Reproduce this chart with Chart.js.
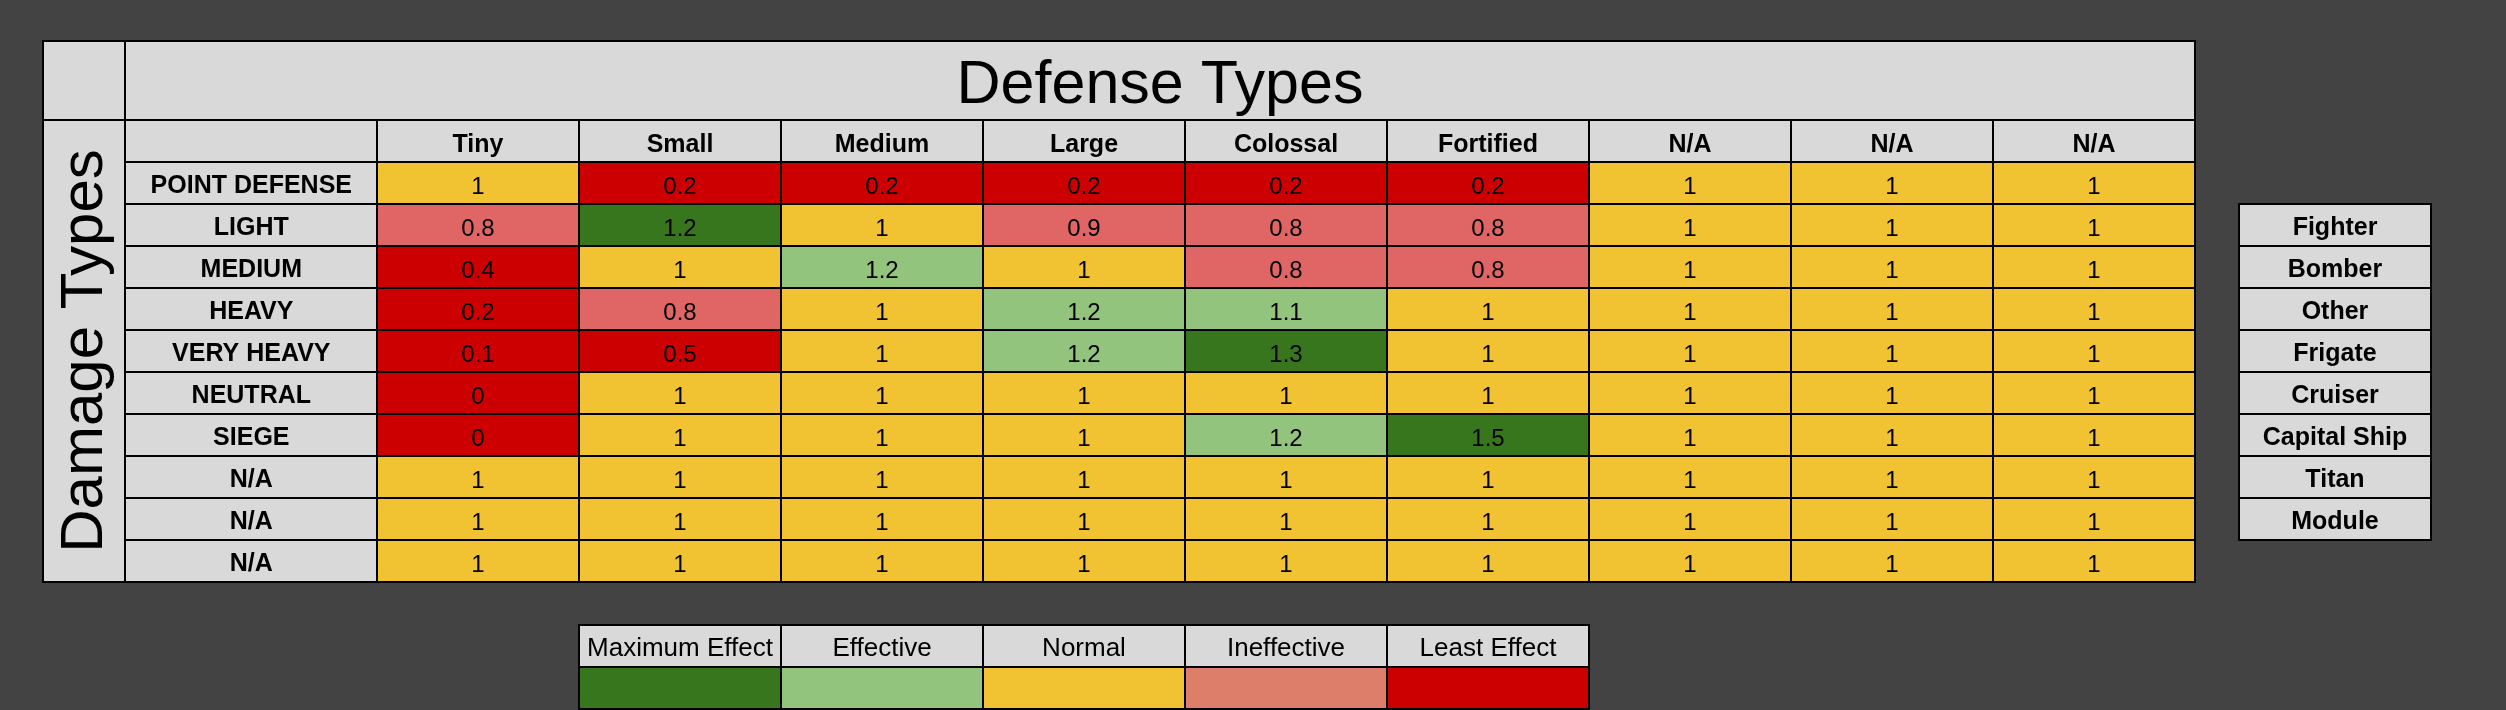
<!DOCTYPE html>
<html>
<head>
<meta charset="utf-8">
<title>Defense Types</title>
<script src="https://cdn.jsdelivr.net/npm/chart.js@4.4.1/dist/chart.umd.min.js"></script>
<style>
  html, body { margin: 0; padding: 0; background: #434343; overflow: hidden; }
  canvas { display: block; }
</style>
</head>
<body>
<canvas id="chart" width="2506" height="710"></canvas>
<script>
// ---------------- data ----------------
const chartTitle = 'Defense Types';
const sideTitle = 'Damage Types';
const defenseTypes = ['Tiny', 'Small', 'Medium', 'Large', 'Colossal', 'Fortified', 'N/A', 'N/A', 'N/A'];
const damageTypes = ['POINT DEFENSE', 'LIGHT', 'MEDIUM', 'HEAVY', 'VERY HEAVY', 'NEUTRAL', 'SIEGE', 'N/A', 'N/A', 'N/A'];
const multipliers = [
  [1,   0.2, 0.2, 0.2, 0.2, 0.2, 1, 1, 1],
  [0.8, 1.2, 1,   0.9, 0.8, 0.8, 1, 1, 1],
  [0.4, 1,   1.2, 1,   0.8, 0.8, 1, 1, 1],
  [0.2, 0.8, 1,   1.2, 1.1, 1,   1, 1, 1],
  [0.1, 0.5, 1,   1.2, 1.3, 1,   1, 1, 1],
  [0,   1,   1,   1,   1,   1,   1, 1, 1],
  [0,   1,   1,   1,   1.2, 1.5, 1, 1, 1],
  [1,   1,   1,   1,   1,   1,   1, 1, 1],
  [1,   1,   1,   1,   1,   1,   1, 1, 1],
  [1,   1,   1,   1,   1,   1,   1, 1, 1]
];
// effect level of each cell: 0 Maximum Effect, 1 Effective, 2 Normal, 3 Ineffective, 4 Least Effect
const effectLevels = [
  [2, 4, 4, 4, 4, 4, 2, 2, 2],
  [3, 0, 2, 3, 3, 3, 2, 2, 2],
  [4, 2, 1, 2, 3, 3, 2, 2, 2],
  [4, 3, 2, 1, 1, 2, 2, 2, 2],
  [4, 4, 2, 1, 0, 2, 2, 2, 2],
  [4, 2, 2, 2, 2, 2, 2, 2, 2],
  [4, 2, 2, 2, 1, 0, 2, 2, 2],
  [2, 2, 2, 2, 2, 2, 2, 2, 2],
  [2, 2, 2, 2, 2, 2, 2, 2, 2],
  [2, 2, 2, 2, 2, 2, 2, 2, 2]
];
const legendLabels = ['Maximum Effect', 'Effective', 'Normal', 'Ineffective', 'Least Effect'];
const legendColors = ['#38761d', '#93c47d', '#f1c232', '#dd7e6b', '#cc0000'];
const cellColors = ['#38761d', '#93c47d', '#f1c232', '#e06666', '#cc0000'];
const shipClasses = ['Fighter', 'Bomber', 'Other', 'Frigate', 'Cruiser', 'Capital Ship', 'Titan', 'Module'];

// ---------------- layout / style ----------------
const BG = '#434343';
const GRAY = '#d9d9d9';
const LINE = '#000000';
const FONT = '"Liberation Sans", Arial, sans-serif';
const DMG_COL_W = 82;      // "Damage Types" column
const ROW_LABEL_W = 252;   // row label column
const TITLE_H = 79;        // title row
const HEADER_H = 42;       // column header row
const SIDE_LEFT = 2239, SIDE_RIGHT = 2431;
const LEGEND_TOP = 625, LEGEND_ROW_H = 42;
const LEGEND_FIRST_COL = 1;
const ROW_LABEL_NUDGE = 0.07; // small downward shift of row labels (in row units)

function capText(ctx, text, x, yMid, size, weight) {
  ctx.font = weight + ' ' + size + 'px ' + FONT;
  ctx.textAlign = 'center';
  ctx.textBaseline = 'alphabetic';
  ctx.fillText(text, x, yMid + size * 0.716 / 2);
}
function hLine(ctx, x1, x2, y) { ctx.beginPath(); ctx.moveTo(x1, y); ctx.lineTo(x2, y); ctx.stroke(); }
function vLine(ctx, x, y1, y2) { ctx.beginPath(); ctx.moveTo(x, y1); ctx.lineTo(x, y2); ctx.stroke(); }

const tablePlugin = {
  id: 'tablePlugin',
  beforeDraw(chart) {
    const ctx = chart.ctx;
    const xs = chart.scales.x, ys = chart.scales.y;
    ctx.save();
    ctx.fillStyle = BG;
    ctx.fillRect(0, 0, chart.width, chart.height);
    const L = ys.left - DMG_COL_W, T = xs.top - TITLE_H;
    ctx.fillStyle = GRAY;
    ctx.fillRect(L, T, xs.right - L, ys.bottom - T);
    ctx.restore();
  },
  afterDatasetsDraw(chart) {
    const ctx = chart.ctx;
    const xs = chart.scales.x, ys = chart.scales.y;
    const L = ys.left - DMG_COL_W, T = xs.top - TITLE_H;
    const cellW = (xs.right - xs.left) / defenseTypes.length;
    ctx.save();

    // cell values
    ctx.fillStyle = '#000';
    chart.data.datasets.forEach((ds, di) => {
      const meta = chart.getDatasetMeta(di);
      meta.data.forEach((bar, j) => {
        const raw = ds.data[j];
        capText(ctx, String(raw.value), bar.x, (bar.y + bar.base) / 2 + 2, 24, 'normal');
      });
    });

    // grid lines of the label areas
    ctx.strokeStyle = LINE;
    ctx.lineWidth = 2;
    for (let k = 0; k <= damageTypes.length; k++) {
      hLine(ctx, ys.left, xs.right, Math.round(ys.getPixelForValue(k)));
    }
    hLine(ctx, L, xs.right, xs.top);
    for (let i = 0; i <= defenseTypes.length; i++) {
      vLine(ctx, xs.left + i * cellW, xs.top, ys.bottom);
    }
    vLine(ctx, ys.left, T, ys.bottom);
    ctx.strokeRect(L, T, xs.right - L, ys.bottom - T);

    // title
    ctx.fillStyle = '#000';
    capText(ctx, chartTitle, (ys.left + xs.right) / 2, (T + xs.top) / 2 + 1, 61, 'normal');

    // vertical "Damage Types"
    ctx.save();
    ctx.translate(L + DMG_COL_W / 2 - 3.5, (xs.top + ys.bottom) / 2);
    ctx.rotate(-Math.PI / 2);
    capText(ctx, sideTitle, 0, 0, 60, 'normal');
    ctx.restore();

    // ship class list, aligned with rows 1..8
    const sTop = ys.getPixelForValue(1), sBot = ys.getPixelForValue(1 + shipClasses.length);
    ctx.fillStyle = GRAY;
    ctx.fillRect(SIDE_LEFT, sTop, SIDE_RIGHT - SIDE_LEFT, sBot - sTop);
    ctx.fillStyle = '#000';
    shipClasses.forEach((name, i) => {
      const y0 = ys.getPixelForValue(1 + i), y1 = ys.getPixelForValue(2 + i);
      capText(ctx, name, (SIDE_LEFT + SIDE_RIGHT) / 2, (y0 + y1) / 2 + 1, 25, 'bold');
      if (i > 0) hLine(ctx, SIDE_LEFT, SIDE_RIGHT, Math.round(y0));
    });
    ctx.strokeRect(SIDE_LEFT, sTop, SIDE_RIGHT - SIDE_LEFT, sBot - sTop);

    // legend table under columns Small..Fortified
    const lx0 = xs.left + LEGEND_FIRST_COL * cellW;
    const lx1 = lx0 + legendLabels.length * cellW;
    ctx.fillStyle = GRAY;
    ctx.fillRect(lx0, LEGEND_TOP, lx1 - lx0, LEGEND_ROW_H);
    legendLabels.forEach((lab, i) => {
      const cx0 = lx0 + i * cellW;
      ctx.fillStyle = legendColors[i];
      ctx.fillRect(cx0, LEGEND_TOP + LEGEND_ROW_H, cellW, LEGEND_ROW_H);
      ctx.fillStyle = '#000';
      capText(ctx, lab, cx0 + cellW / 2, LEGEND_TOP + LEGEND_ROW_H / 2 + 1, 26, 'normal');
      if (i > 0) vLine(ctx, cx0, LEGEND_TOP, LEGEND_TOP + 2 * LEGEND_ROW_H);
    });
    hLine(ctx, lx0, lx1, LEGEND_TOP + LEGEND_ROW_H);
    ctx.strokeRect(lx0, LEGEND_TOP, lx1 - lx0, 2 * LEGEND_ROW_H);

    ctx.restore();
  }
};

const datasets = damageTypes.map((name, r) => ({
  label: name,
  data: multipliers[r].map((v, c) => ({ x: c, y: [r, r + 1], value: v, level: effectLevels[r][c] })),
  backgroundColor: (c) => c.raw ? cellColors[c.raw.level] : GRAY,
  borderColor: LINE,
  borderWidth: 1,
  borderSkipped: false,
  barPercentage: 1,
  categoryPercentage: 1,
  grouped: false
}));

new Chart(document.getElementById('chart'), {
  type: 'bar',
  data: { labels: defenseTypes, datasets },
  plugins: [tablePlugin],
  options: {
    responsive: false,
    animation: false,
    events: [],
    layout: { padding: { left: 125, top: 120, right: 311, bottom: 128 } },
    plugins: { legend: { display: false }, tooltip: { enabled: false }, title: { display: false } },
    scales: {
      x: {
        type: 'category',
        position: 'top',
        offset: true,
        afterFit: (s) => { s.height = HEADER_H; },
        grid: { display: false, drawTicks: false },
        border: { display: false },
        ticks: {
          autoSkip: false, maxRotation: 0, minRotation: 0, padding: 2,
          color: '#000', font: { family: FONT, size: 25, weight: 'bold' }
        }
      },
      y: {
        type: 'linear',
        min: 0, max: damageTypes.length,
        reverse: true,
        afterBuildTicks: (s) => { s.ticks = damageTypes.map((_, i) => ({ value: i + 0.5 + ROW_LABEL_NUDGE })); },
        afterFit: (s) => { s.width = ROW_LABEL_W; },
        grid: { display: false, drawTicks: false },
        border: { display: false },
        ticks: {
          autoSkip: false, crossAlign: 'center', padding: 25,
          color: '#000', font: { family: FONT, size: 25, weight: 'bold' },
          callback: (v, i) => damageTypes[i]
        }
      }
    }
  }
});
</script>
</body>
</html>
